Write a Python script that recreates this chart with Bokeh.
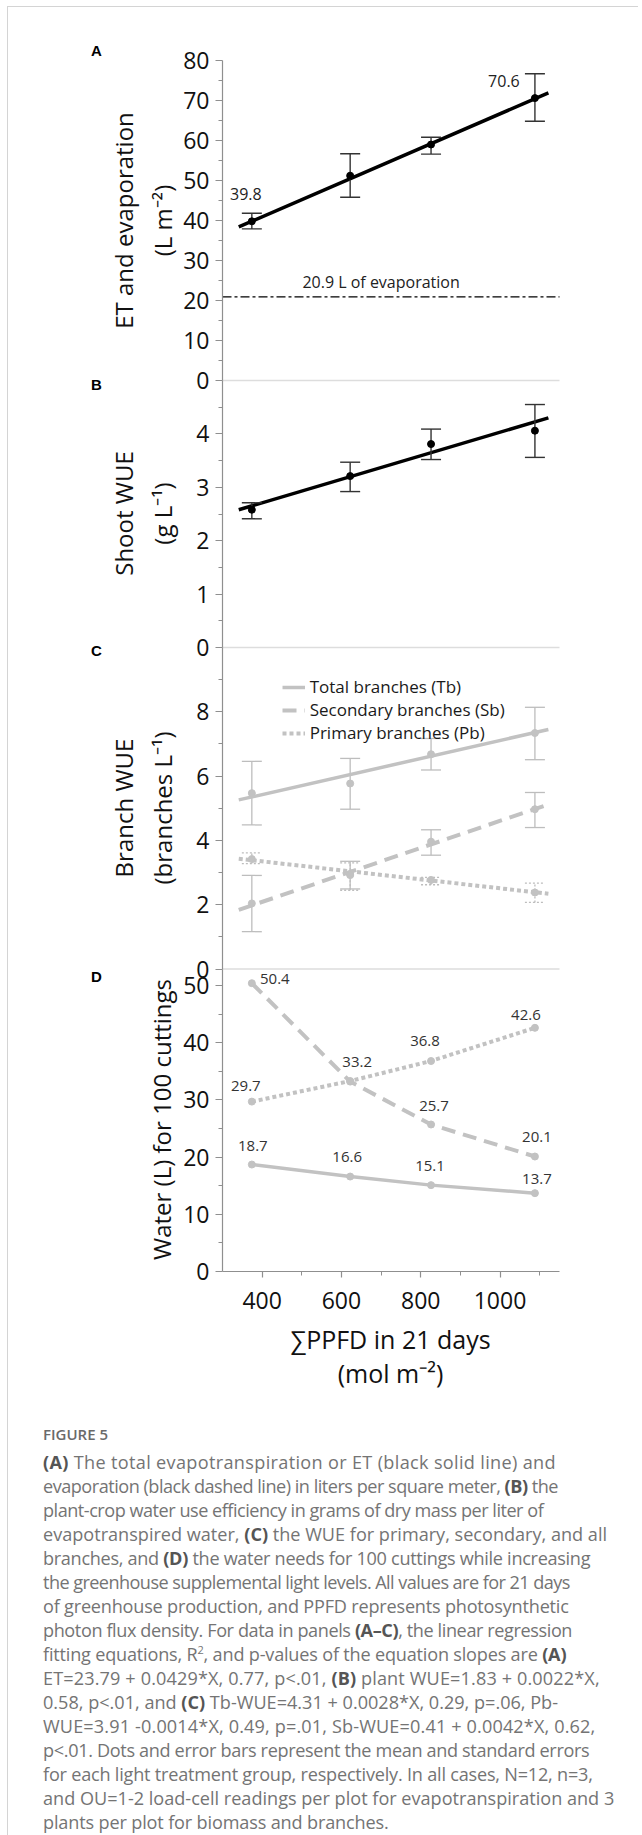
import numpy as np
from bokeh.plotting import figure
from bokeh.models import (Range1d, LinearAxis, FixedTicker, Label, Legend,
                          LegendItem, Div)
from bokeh.layouts import column
from bokeh.core.properties import value
from bokeh.embed import file_html
from bokeh.resources import INLINE

# ---------------- data ----------------
ppfd = [374, 622, 826, 1088]
x_ticks = [400, 600, 800, 1000]
x_minor = [500, 700, 900, 1100]
fit_x = [341, 1122]

et_mean = [39.8, 51.2, 59.0, 70.6]
et_low = [37.9, 45.8, 56.6, 64.8]
et_high = [41.8, 56.7, 60.8, 76.7]
et_fit_y = [38.4, 71.9]
evaporation = 20.9

wue_mean = [2.58, 3.21, 3.81, 4.06]
wue_low = [2.41, 2.92, 3.52, 3.56]
wue_high = [2.71, 3.47, 4.09, 4.55]
wue_fit_y = [2.58, 4.30]

tb_mean = [5.47, 5.77, 6.68, 7.34]
tb_low = [4.48, 4.97, 6.19, 6.51]
tb_high = [6.46, 6.55, 7.17, 8.14]
tb_fit_y = [5.26, 7.45]

sb_mean = [2.04, 2.95, 3.96, 4.97]
sb_low = [1.16, 2.49, 3.54, 4.40]
sb_high = [2.91, 3.35, 4.33, 5.49]
sb_fit_y = [1.84, 5.12]

pb_mean = [3.42, 2.92, 2.77, 2.38]
pb_low = [3.28, 2.45, 2.62, 2.07]
pb_high = [3.61, 3.30, 2.85, 2.67]
pb_fit_y = [3.43, 2.34]

tb_water = [18.7, 16.6, 15.1, 13.7]
sb_water = [50.4, 33.2, 25.7, 20.1]
pb_water = [29.7, 33.3, 36.8, 42.6]

ticks_A = [0, 10, 20, 30, 40, 50, 60, 70, 80]
minor_A = [5, 15, 25, 35, 45, 55, 65, 75]
ticks_B = [0, 1, 2, 3, 4]
minor_B = [0.5, 1.5, 2.5, 3.5, 4.5]
ticks_C = [0, 2, 4, 6, 8]
minor_C = [1, 3, 5, 7, 9]
ticks_D = [0, 10, 20, 30, 40, 50]
minor_D = [5, 15, 25, 35, 45]

# ---------------- layout helpers ----------------
FONT = "Open Sans"
GRAY = "#c2c2c2"
AX = "#8f8f8f"
W, H = 620, 1383
OX, OY = 8.0, 7.0              # page position of the canvas' top-left corner
FT, FB = OY, OY + H            # frame covers the whole canvas
FL, FR = 222.0, 559.0          # page x of plotting area left / right
XS, XE = 300, 1150
# (value at bottom, value at top, page y bottom, page y top)
bands = {"A": (0, 80, 380.0, 60.0), "B": (0, 5, 647.0, 380.0),
         "C": (0, 10, 968.5, 647.0), "D": (0, 50, 1271.0, 985.0)}
rname = {"A": "default", "B": "B", "C": "C", "D": "D"}


def rng(name):
    vb, vt, yb, yt = bands[name]
    s = (vt - vb) / (yb - yt)
    return Range1d(vb - (FB - yb) * s, vt + (yt - FT) * s)


def V(name, py):
    vb, vt, yb, yt = bands[name]
    return vb + (yb - py) * (vt - vb) / (yb - yt)


KX = (XE - XS) / (FR - FL)


def X(px):
    return XS + (px - FL) * KX


p = figure(width=W, height=H, x_range=Range1d(X(OX), X(OX + W)), y_range=rng("A"),
           output_backend="svg", toolbar_location=None, y_axis_location=None,
           x_axis_location=None, min_border=0, min_border_left=0,
           min_border_right=0, min_border_top=0, min_border_bottom=0)
p.extra_y_ranges = {"B": rng("B"), "C": rng("C"), "D": rng("D")}
p.outline_line_color = None
p.grid.grid_line_color = None
p.background_fill_color = "white"
p.border_fill_color = "white"


def style_axis(ax):
    ax.axis_line_color = AX
    ax.axis_line_width = 1.2
    ax.major_tick_line_color = AX
    ax.minor_tick_line_color = AX
    ax.major_tick_line_width = 1.2
    ax.minor_tick_line_width = 1.0
    ax.major_tick_out = 7
    ax.major_tick_in = 0
    ax.minor_tick_out = 4
    ax.minor_tick_in = 0
    ax.major_label_text_font = FONT
    ax.major_label_text_font_size = "23px"
    ax.major_label_text_color = "#111111"


tops = {"A": 80, "B": 5, "C": 10, "D": V("D", 968.5)}
for name, tk, mn in [("A", ticks_A, minor_A), ("B", ticks_B, minor_B),
                     ("C", ticks_C, minor_C), ("D", ticks_D, minor_D)]:
    ax = LinearAxis(y_range_name=rname[name], fixed_location=XS,
                    bounds=(0, tops[name]),
                    ticker=FixedTicker(ticks=tk, minor_ticks=mn))
    style_axis(ax)
    ax.major_label_standoff = 6
    p.add_layout(ax, "left")

xa = LinearAxis(y_range_name="D", fixed_location=0, bounds=(XS, XE),
                ticker=FixedTicker(ticks=x_ticks, minor_ticks=x_minor))
style_axis(xa)
xa.major_tick_out = 6
xa.minor_tick_out = 4
xa.major_label_standoff = 14
p.add_layout(xa, "below")

# panel separators (bottom edge of panels A, B, C)
for name in ["A", "B", "C"]:
    p.segment(x0=[XS], y0=[0], x1=[XE], y1=[0], line_color="#dddddd",
              line_width=1.5, y_range_name=rname[name])

# ---------------- panel A ----------------
p.segment(x0=[XS], y0=[evaporation], x1=[XE], y1=[evaporation], line_color="black",
          line_width=1.3, line_dash="9 3 3 3")
p.text(x=[700], y=[evaporation], text=[f"{evaporation} L of evaporation"],
       y_offset=[-15], text_align="center", text_baseline="middle",
       text_font=value(FONT), text_font_size=value("16px"), text_color="#222222")
p.line(fit_x, et_fit_y, line_color="black", line_width=3.5)
p.segment(x0=ppfd, y0=et_low, x1=ppfd, y1=et_high, line_color="#333333", line_width=1.4)
p.scatter(ppfd, et_low, marker="dash", size=20, line_color="#333333", line_width=1.4)
p.scatter(ppfd, et_high, marker="dash", size=20, line_color="#333333", line_width=1.4)
p.scatter(ppfd, et_mean, size=7, color="black")
p.text(x=[ppfd[0], ppfd[-1]], y=[et_mean[0], et_mean[-1]],
       text=[f"{et_mean[0]:.1f}", f"{et_mean[-1]:.1f}"],
       x_offset=[-6, -31], y_offset=[-27, -17], text_align="center",
       text_baseline="middle", text_font=value(FONT),
       text_font_size=value("16px"), text_color="#222222")

# ---------------- panel B ----------------
p.line(fit_x, wue_fit_y, line_color="black", line_width=3.5, y_range_name="B")
p.segment(x0=ppfd, y0=wue_low, x1=ppfd, y1=wue_high, line_color="#333333",
          line_width=1.4, y_range_name="B")
p.scatter(ppfd, wue_low, marker="dash", size=20, line_color="#333333",
          line_width=1.4, y_range_name="B")
p.scatter(ppfd, wue_high, marker="dash", size=20, line_color="#333333",
          line_width=1.4, y_range_name="B")
p.scatter(ppfd, wue_mean, size=7, color="black", y_range_name="B")

# ---------------- panel C ----------------
EB = "#bdbdbd"
styles = {"tb": dict(line_dash="solid"), "sb": dict(line_dash="14 8"),
          "pb": dict(line_dash="4 3")}
fits = {}
for key, mean, low, high, fy, edash in [
        ("tb", tb_mean, tb_low, tb_high, tb_fit_y, "solid"),
        ("sb", sb_mean, sb_low, sb_high, sb_fit_y, "solid"),
        ("pb", pb_mean, pb_low, pb_high, pb_fit_y, "2 2")]:
    p.segment(x0=ppfd, y0=low, x1=ppfd, y1=high, line_color=EB, line_width=1.3,
              line_dash=edash, y_range_name="C")
    p.scatter(ppfd, low, marker="dash", size=20, line_color=EB, line_width=1.3,
              line_dash=edash, y_range_name="C")
    p.scatter(ppfd, high, marker="dash", size=20, line_color=EB, line_width=1.3,
              line_dash=edash, y_range_name="C")
    fits[key] = p.line(fit_x, fy, line_color=GRAY, line_width=4 if key != "tb" else 3.5,
                       y_range_name="C", **styles[key])
    p.scatter(ppfd, mean, size=7, color=GRAY, y_range_name="C")

legend = Legend(items=[LegendItem(label="Total branches (Tb)", renderers=[fits["tb"]]),
                       LegendItem(label="Secondary branches (Sb)", renderers=[fits["sb"]]),
                       LegendItem(label="Primary branches (Pb)", renderers=[fits["pb"]])],
                location=(281.7 - OX, FB - 744.2), glyph_width=23, glyph_height=20,
                label_height=20, label_standoff=5, spacing=0, padding=0, margin=0,
                border_line_color=None, background_fill_alpha=0,
                label_text_font=FONT, label_text_font_size="17px",
                label_text_color="#1a1a1a")
p.add_layout(legend)

# ---------------- panel D ----------------
p.line(ppfd, tb_water, line_color=GRAY, line_width=3.5, y_range_name="D")
p.line(ppfd, sb_water, line_color=GRAY, line_width=4, line_dash="14 8", y_range_name="D")
p.line(ppfd, pb_water, line_color=GRAY, line_width=4, line_dash="4 3", y_range_name="D")
for arr in (tb_water, sb_water, pb_water):
    p.scatter(ppfd, arr, size=7, color=GRAY, y_range_name="D")

lab_x = ppfd * 2 + [ppfd[0], ppfd[2], ppfd[3]]
lab_y = tb_water + sb_water + [pb_water[0], pb_water[2], pb_water[3]]
lab_dx = [1, -3, -1, 2, 23, 7, 3, 2, -6, -6, -9]
lab_dy = [-19, -20, -19, -14, -4, -20, -18, -20, -16, -20, -13]
p.text(x=lab_x, y=lab_y, text=[f"{v:.1f}" for v in lab_y], x_offset=lab_dx,
       y_offset=lab_dy, text_align="center", text_baseline="middle",
       text_font=value(FONT), text_font_size=value("15px"), text_color="#333333",
       y_range_name="D")


# ---------------- titles / panel letters ----------------
def lab(text, px, py, panel, size="24px", angle=np.pi / 2, bold=False,
        font=FONT, color="#111111"):
    p.add_layout(Label(x=X(px), y=V(panel, py), text=text, angle=angle,
                       y_range_name=rname[panel], text_align="center",
                       text_baseline="middle", text_font=font,
                       text_font_size=size, text_color=color,
                       text_font_style="bold" if bold else "normal"))


lab("ET and evaporation", 123, 220, "A")
lab("(L m\u207b\u00b2)", 162, 220, "A")
lab("Shoot WUE", 123, 513, "B")
lab("(g L\u207b\u00b9)", 162, 513, "B")
lab("Branch WUE", 123, 807.5, "C")
lab("(branches L\u207b\u00b9)", 162, 807.5, "C")
lab("Water (L) for 100 cuttings", 161, 1119, "D")
lab("\u2211PPFD in 21 days", 390, 1338, "D", size="25px", angle=0)
lab("(mol m\u207b\u00b2)", 390, 1372, "D", size="25px", angle=0)
for t, py, panel in [("A", 50, "A"), ("B", 384, "B"), ("C", 650, "C"), ("D", 976, "D")]:
    lab(t, 96, py, panel, size="15px", angle=0, bold=True, font="Liberation Sans",
        color="black")

# ---------------- caption ----------------
lines = [
    "<b>(A)</b> The total evapotranspiration or ET (black solid line) and",
    "evaporation (black dashed line) in liters per square meter, <b>(B)</b> the",
    "plant-crop water use efficiency in grams of dry mass per liter of",
    "evapotranspired water, <b>(C)</b> the WUE for primary, secondary, and all",
    "branches, and <b>(D)</b> the water needs for 100 cuttings while increasing",
    "the greenhouse supplemental light levels. All values are for 21 days",
    "of greenhouse production, and PPFD represents photosynthetic",
    "photon flux density. For data in panels <b>(A\u2013C)</b>, the linear regression",
    "fitting equations, R<sup style='font-size:11px;line-height:0'>2</sup>, and p-values of the equation slopes are <b>(A)</b>",
    "ET=23.79 + 0.0429*X, 0.77, p&lt;.01, <b>(B)</b> plant WUE=1.83 + 0.0022*X,",
    "0.58, p&lt;.01, and <b>(C)</b> Tb-WUE=4.31 + 0.0028*X, 0.29, p=.06, Pb-",
    "WUE=3.91 -0.0014*X, 0.49, p=.01, Sb-WUE=0.41 + 0.0042*X, 0.62,",
    "p&lt;.01. Dots and error bars represent the mean and standard errors",
    "for each light treatment group, respectively. In all cases, N=12, n=3,",
    "and OU=1-2 load-cell readings per plot for evapotranspiration and 3",
    "plants per plot for biomass and branches.",
]
# per-line letter spacing (px) to follow the reference line lengths
spacing_px = [0.33, -0.49, -0.48, 0.0, -0.30, -0.56, -0.20, -0.40,
              -0.19, 0.13, 0.0, 0.14, -0.34, -0.21, 0.0, -0.15]
body = "".join(
    f"<div style='letter-spacing:{ls}px;height:24px;'>"
    + l.replace("<b>", "<b style='color:#555;font-weight:700'>") + "</div>"
    for l, ls in zip(lines, spacing_px))
html = ("<div style=\"font-family:'Open Sans';font-size:18.1px;line-height:24px;"
        "color:#747474;padding-left:30px;padding-top:27px;white-space:nowrap;\">"
        "<div style='font-size:15px;font-weight:600;color:#6a6a6a;margin-bottom:4px;'>FIGURE 5</div>"
        + body + "</div>")
cap = Div(text=html, width=W, height=438)

layout = column(p, cap, styles={"border-left": "1px solid #d4d4d4",
                                "border-top": "1px solid #d4d4d4",
                                "margin-left": "7px", "margin-top": "6px"})
open("out.html", "w").write(file_html(layout, INLINE))
